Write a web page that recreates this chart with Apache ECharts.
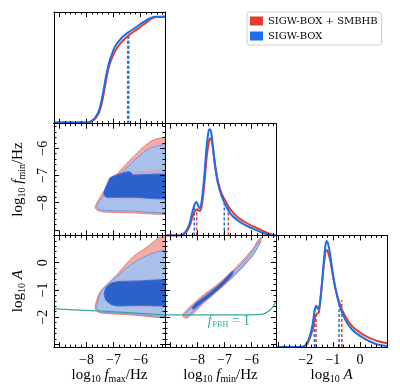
<!DOCTYPE html>
<html>
<head>
<meta charset="utf-8">
<script src="https://cdn.jsdelivr.net/npm/echarts@6/dist/echarts.min.js"></script>
<style>
html, body { margin: 0; padding: 0; background: #fff; }
#chart { width: 400px; height: 391px; }
</style>
</head>
<body>
<div id="chart"></div>
<script>
// axis ranges and ticks
const fRange = [-9.2, -5.1];
const aRange = [-3.1, 1.0];
const fMajor = [-9, -8, -7, -6];
const aMajor = [-3, -2, -1, 0, 1];
const fLabels = [-8, -7, -6];
const aLabels = [-2, -1, 0];

// 1D marginals, log10 fmax
const fmaxRed = [[-9.2,0.01],[-7.9,0.01],[-7.82,0.02],[-7.66,0.05],[-7.52,0.11],[-7.42,0.2],[-7.32,0.33],[-7.22,0.46],[-7.12,0.55],[-7.02,0.61],[-6.92,0.66],[-6.78,0.71],[-6.63,0.75],[-6.47,0.785],[-6.25,0.825],[-6.02,0.865],[-5.8,0.905],[-5.6,0.94],[-5.45,0.955],[-5.1,0.958]];
const fmaxBlue = [[-9.2,0.01],[-7.94,0.01],[-7.85,0.02],[-7.69,0.05],[-7.55,0.11],[-7.45,0.2],[-7.35,0.33],[-7.25,0.46],[-7.15,0.56],[-7.05,0.63],[-6.95,0.69],[-6.8,0.74],[-6.65,0.78],[-6.47,0.815],[-6.25,0.85],[-6.02,0.89],[-5.8,0.925],[-5.6,0.95],[-5.45,0.958],[-5.1,0.958]];
const fmaxRedCI = [[-6.48, 0.78]];
const fmaxBlueCI = [[-6.44, 0.815]];

// 1D marginals, log10 fmin
const fminRed = [[-9.2,0],[-8.6,0],[-8.42,0.03],[-8.28,0.09],[-8.18,0.17],[-8.08,0.22],[-8.02,0.235],[-7.96,0.22],[-7.9,0.22],[-7.82,0.3],[-7.74,0.48],[-7.66,0.7],[-7.58,0.84],[-7.53,0.87],[-7.48,0.85],[-7.42,0.76],[-7.33,0.6],[-7.22,0.46],[-7.1,0.37],[-6.95,0.3],[-6.78,0.23],[-6.55,0.17],[-6.25,0.12],[-5.95,0.08],[-5.65,0.05],[-5.4,0.02],[-5.2,0.005],[-5.1,0]];
const fminBlue = [[-9.2,0],[-8.65,0],[-8.45,0.03],[-8.3,0.1],[-8.2,0.2],[-8.1,0.28],[-8.04,0.3],[-7.98,0.27],[-7.92,0.24],[-7.85,0.3],[-7.76,0.5],[-7.68,0.75],[-7.6,0.92],[-7.55,0.95],[-7.5,0.93],[-7.44,0.82],[-7.35,0.62],[-7.25,0.47],[-7.12,0.36],[-6.98,0.28],[-6.8,0.2],[-6.6,0.15],[-6.3,0.1],[-6.0,0.065],[-5.7,0.035],[-5.45,0.01],[-5.3,0],[-5.1,0]];
const fminRedCI = [[-8.03, 0.235], [-6.86, 0.26]];
const fminBlueCI = [[-8.12, 0.27], [-7.01, 0.29]];

// 1D marginals, log10 A
const ampRed = [[-3.1,0],[-2.2,0],[-2.02,0.01],[-1.92,0.04],[-1.82,0.1],[-1.72,0.18],[-1.65,0.27],[-1.58,0.3],[-1.52,0.31],[-1.46,0.42],[-1.38,0.62],[-1.3,0.8],[-1.24,0.87],[-1.19,0.86],[-1.1,0.78],[-1.0,0.64],[-0.9,0.52],[-0.75,0.39],[-0.55,0.28],[-0.3,0.19],[0,0.13],[0.37,0.08],[0.7,0.05],[1.0,0.035]];
const ampBlue = [[-3.1,0],[-2.2,0],[-2.05,0.01],[-1.95,0.04],[-1.85,0.1],[-1.75,0.2],[-1.67,0.33],[-1.61,0.37],[-1.55,0.34],[-1.5,0.36],[-1.43,0.5],[-1.35,0.72],[-1.28,0.9],[-1.23,0.95],[-1.18,0.93],[-1.1,0.83],[-1.0,0.66],[-0.9,0.52],[-0.75,0.37],[-0.55,0.25],[-0.3,0.16],[0,0.1],[0.37,0.05],[0.7,0.02],[1.0,0.01]];
const ampRedCI = [[-1.62, 0.3], [-0.67, 0.42]];
const ampBlueCI = [[-1.68, 0.33], [-0.77, 0.37]];

// 2D contours: (log10 fmax, log10 fmin)
const maxMinRed95 = [[-7.68,-8.13],[-7.6,-7.98],[-7.5,-7.8],[-7.25,-7.42],[-6.9,-6.98],[-6.55,-6.6],[-6.3,-6.35],[-5.95,-6.0],[-5.65,-5.76],[-5.4,-5.65],[-4.9,-5.6],[-4.9,-8.36],[-6.3,-8.37],[-7.4,-8.34],[-7.6,-8.28],[-7.67,-8.22]];
const maxMinBlue95 = [[-7.62,-8.13],[-7.55,-7.98],[-7.45,-7.85],[-7.2,-7.5],[-6.87,-7.09],[-6.55,-6.75],[-6.28,-6.5],[-5.95,-6.2],[-5.65,-5.99],[-5.39,-5.92],[-4.9,-5.86],[-4.9,-8.31],[-6.28,-8.31],[-7.39,-8.28],[-7.55,-8.24],[-7.61,-8.2]];
const maxMinRed68 = [[-7.38,-7.65],[-7.34,-7.52],[-7.25,-7.3],[-7.13,-7.05],[-6.8,-6.9],[-6.4,-6.85],[-5.8,-6.82],[-4.9,-6.8],[-4.9,-7.85],[-7.2,-7.84],[-7.35,-7.78]];
const maxMinBlue68 = [[-7.36,-7.65],[-7.32,-7.5],[-7.22,-7.28],[-7.13,-7.09],[-6.8,-6.95],[-6.5,-6.87],[-6.39,-6.87],[-6.28,-6.98],[-4.9,-6.98],[-4.9,-7.83],[-6.28,-7.8],[-7.25,-7.8],[-7.34,-7.74]];

// 2D contours: (log10 fmax, log10 A)
const maxAmpRed95 = [[-7.68,-1.62],[-7.6,-1.3],[-7.5,-1.07],[-7.2,-0.76],[-6.88,-0.45],[-6.58,-0.1],[-6.28,0.22],[-5.95,0.45],[-5.65,0.66],[-5.3,0.95],[-5.1,1.2],[-4.9,1.2],[-4.9,-1.96],[-6.3,-1.92],[-7.4,-1.86],[-7.6,-1.8],[-7.67,-1.72]];
const maxAmpBlue95 = [[-7.62,-1.62],[-7.56,-1.35],[-7.5,-1.18],[-7.39,-0.95],[-7.15,-0.73],[-6.88,-0.51],[-6.58,-0.25],[-6.28,-0.02],[-5.95,0.17],[-5.65,0.31],[-5.35,0.4],[-4.9,0.43],[-4.9,-1.92],[-6.28,-1.88],[-7.39,-1.82],[-7.56,-1.78],[-7.61,-1.72]];
const maxAmpRed68 = [[-7.36,-1.14],[-7.28,-0.9],[-7.1,-0.72],[-6.8,-0.64],[-6.0,-0.62],[-4.9,-0.6],[-4.9,-1.58],[-7.1,-1.56],[-7.3,-1.4]];
const maxAmpBlue68 = [[-7.35,-1.14],[-7.28,-0.92],[-7.1,-0.76],[-6.87,-0.7],[-6.0,-0.67],[-4.9,-0.66],[-4.9,-1.55],[-6.0,-1.57],[-6.87,-1.59],[-7.1,-1.53],[-7.28,-1.38]];

// 2D contours: (log10 fmin, log10 A)
const minAmpRed95 = [[-8.52,-1.87],[-8.28,-1.62],[-7.79,-1.19],[-7.29,-0.82],[-6.8,-0.39],[-6.31,0.1],[-5.94,0.53],[-5.75,0.84],[-5.66,0.93],[-5.63,0.9],[-5.69,0.72],[-5.94,0.29],[-6.31,-0.15],[-6.8,-0.64],[-7.29,-1.07],[-7.79,-1.5],[-8.15,-1.87],[-8.4,-2.03],[-8.5,-2.02],[-8.54,-1.95]];
const minAmpBlue95 = [[-8.45,-1.88],[-8.22,-1.63],[-7.76,-1.24],[-7.27,-0.87],[-6.78,-0.45],[-6.3,0.02],[-5.95,0.45],[-5.78,0.72],[-5.71,0.8],[-5.68,0.76],[-5.74,0.62],[-5.96,0.27],[-6.33,-0.14],[-6.82,-0.6],[-7.3,-1.03],[-7.8,-1.45],[-8.17,-1.8],[-8.38,-1.95],[-8.47,-1.93]];
const minAmpRed68 = [[-8.25,-1.68],[-8.08,-1.46],[-7.6,-1.1],[-7.08,-0.66],[-6.7,-0.28],[-6.62,-0.26],[-6.68,-0.42],[-7.02,-0.84],[-7.55,-1.28],[-8.0,-1.64],[-8.18,-1.76]];
const minAmpBlue68 = [[-8.2,-1.66],[-8.05,-1.48],[-7.6,-1.15],[-7.1,-0.72],[-6.75,-0.35],[-6.68,-0.32],[-6.72,-0.45],[-7.05,-0.82],[-7.55,-1.25],[-8.0,-1.6],[-8.15,-1.72]];

// f_PBH = 1 bound
const pbhMax = [[-9.2,-1.7],[-7.2,-1.79],[-5.1,-1.92]];
const pbhMin = [[-9.2,-1.92],[-6.5,-1.92],[-5.76,-1.91],[-5.5,-1.86],[-5.32,-1.74],[-5.2,-1.6],[-5.1,-1.42]];
const pbhLabelAt = [-6.84, -2.14];

const RED = '#e23b2f';
const BLUE = '#1a6fec';
const TEAL = '#3aa69d';
const FONT = 'Liberation Serif';
const NAME_RED = 'SIGW-BOX + SMBHB';
const NAME_BLUE = 'SIGW-BOX';

const colLeft = [54, 165, 276];
const rowTop = [12, 123.7, 235.4];
const W = 111, H = 111.7;

const rich = {
  t: { fontFamily: FONT, fontSize: 15, color: '#000' },
  i: { fontFamily: FONT, fontSize: 15, fontStyle: 'italic', color: '#000' },
  s: { fontFamily: FONT, fontSize: 10, color: '#000', padding: [8, 0, 0, 0] }
};
const titleMax = '{t|log}{s|10}{i| f}{s|max}{t|/Hz}';
const titleMin = '{t|log}{s|10}{i| f}{s|min}{t|/Hz}';
const titleAmp = '{t|log}{s|10}{i| A}';

function minorOf(range, major) {
  const out = [];
  for (let k = Math.ceil(range[0] * 5 - 1e-9); k <= Math.floor(range[1] * 5 + 1e-9); k++) {
    const v = k / 5;
    if (!major.some(m => Math.abs(m - v) < 1e-6)) out.push(+v.toFixed(2));
  }
  return out;
}
const fmt = v => (v < 0 ? '\u2212' : '') + Math.abs(v);

const grids = [], xAxes = [], yAxes = [], series = [];

function axis(gi, pos, range, vals, len, extra) {
  return Object.assign({
    type: 'value', gridIndex: gi, position: pos, min: range[0], max: range[1], z: 10,
    axisLine: { show: true, onZero: false, lineStyle: { color: '#000', width: 1 } },
    axisTick: { show: !!vals, inside: true, length: len, customValues: vals || [], lineStyle: { color: '#000', width: 1 } },
    axisLabel: { show: false },
    splitLine: { show: false }
  }, extra || {});
}

function labelCfg(vals, rotate) {
  return { show: true, customValues: vals, formatter: fmt, fontFamily: FONT, fontSize: 14, color: '#000', margin: rotate ? 4 : 6, rotate: rotate || 0 };
}

// build one panel (main grid + overlay grid for the minor ticks); returns main axes
function panel(row, col, xr, xMaj, yr, yMaj, opt) {
  const box = { left: colLeft[col], top: rowTop[row], width: W, height: H };
  const gi = grids.length;
  grids.push(Object.assign({}, box), Object.assign({}, box));
  const xi = xAxes.length, yi = yAxes.length;
  const xMin = minorOf(xr, xMaj);
  xAxes.push(axis(gi, 'bottom', xr, xMaj, 5, opt.xLab ? {
    axisLabel: labelCfg(opt.xLab), name: opt.xTitle, nameLocation: 'middle', nameGap: 16,
    nameTextStyle: { rich: rich }
  } : null));
  xAxes.push(axis(gi, 'top', xr, xMaj, 5));
  xAxes.push(axis(gi + 1, 'bottom', xr, xMin, 2.5));
  xAxes.push(axis(gi + 1, 'top', xr, xMin, 2.5));
  if (opt.diag) {
    yAxes.push(axis(gi, 'left', yr, null, 0));
    yAxes.push(axis(gi, 'right', yr, null, 0));
    yAxes.push(axis(gi + 1, 'left', yr, null, 0, { show: false }));
  } else {
    const yMin = minorOf(yr, yMaj);
    yAxes.push(axis(gi, 'left', yr, yMaj, 5, opt.yLab ? {
      axisLabel: labelCfg(opt.yLab, 90), name: opt.yTitle, nameLocation: 'middle', nameGap: 27,
      nameTextStyle: { rich: rich }
    } : null));
    yAxes.push(axis(gi, 'right', yr, yMaj, 5));
    yAxes.push(axis(gi + 1, 'left', yr, yMin, 2.5));
    yAxes.push(axis(gi + 1, 'right', yr, yMin, 2.5));
  }
  return { xi, yi };
}

function curve(p, data, color, name, z) {
  series.push({
    type: 'line', name: name, xAxisIndex: p.xi, yAxisIndex: p.yi, data: data,
    showSymbol: false, symbol: 'none', smooth: 0.35, silent: true, z: z,
    lineStyle: { color: color, width: 2 }, itemStyle: { color: color }
  });
}
function ciLines(p, pts, color, z) {
  pts.forEach(pt => {
    series.push({
      type: 'line', xAxisIndex: p.xi, yAxisIndex: p.yi, data: [[pt[0], 0], pt],
      showSymbol: false, symbol: 'none', silent: true, z: z,
      lineStyle: { color: color, width: 1.5, type: [3, 2] }
    });
  });
}
function contour(p, pts, fill, stroke, z) {
  series.push({
    type: 'custom', xAxisIndex: p.xi, yAxisIndex: p.yi, data: [0], clip: true, silent: true, z: z,
    renderItem: (params, api) => ({
      type: 'polygon',
      shape: { points: pts.map(q => api.coord(q)), smooth: 0.15 },
      style: { fill: fill, stroke: stroke, lineWidth: stroke ? 1 : 0 }
    })
  });
}
function pbh(p, data) {
  series.push({
    type: 'line', xAxisIndex: p.xi, yAxisIndex: p.yi, data: data, showSymbol: false, symbol: 'none',
    smooth: 0.3, silent: true, z: 6, lineStyle: { color: TEAL, width: 1.2 }
  });
}

const pMax = panel(0, 0, fRange, fMajor, [0, 1], null, { diag: true });
const pMaxMin = panel(1, 0, fRange, fMajor, fRange, fMajor, { yLab: fLabels, yTitle: titleMin });
const pMin = panel(1, 1, fRange, fMajor, [0, 1], null, { diag: true });
const pMaxAmp = panel(2, 0, fRange, fMajor, aRange, aMajor, { xLab: fLabels, xTitle: titleMax, yLab: aLabels, yTitle: titleAmp });
const pMinAmp = panel(2, 1, fRange, fMajor, aRange, aMajor, { xLab: fLabels, xTitle: titleMin });
const pAmp = panel(2, 2, aRange, aMajor, [0, 1], null, { diag: true, xLab: aLabels, xTitle: titleAmp });

// contours
[[pMaxMin, maxMinRed95, maxMinBlue95, maxMinRed68, maxMinBlue68],
 [pMaxAmp, maxAmpRed95, maxAmpBlue95, maxAmpRed68, maxAmpBlue68],
 [pMinAmp, minAmpRed95, minAmpBlue95, minAmpRed68, minAmpBlue68]].forEach(c => {
  contour(c[0], c[1], '#f4aba6', '#ec7a70', 1);
  contour(c[0], c[2], '#a9c0ea', '#6b97e8', 2);
  contour(c[0], c[3], 'rgba(214,150,175,0.45)', null, 3);
  contour(c[0], c[4], '#2c61cb', '#3a6fd8', 4);
});
pbh(pMaxAmp, pbhMax);
pbh(pMinAmp, pbhMin);
series.push({
  type: 'custom', xAxisIndex: pMinAmp.xi, yAxisIndex: pMinAmp.yi, data: [0], silent: true, z: 7,
  renderItem: (params, api) => {
    const c = api.coord(pbhLabelAt);
    return {
      type: 'text', x: c[0], y: c[1],
      style: {
        text: '{i|f}{s|PBH}{t| = 1}', align: 'center', verticalAlign: 'middle',
        rich: {
          i: { fontFamily: FONT, fontSize: 14, fontStyle: 'italic', fill: TEAL },
          s: { fontFamily: FONT, fontSize: 8, fill: TEAL, padding: [7, 0, 0, 1] },
          t: { fontFamily: FONT, fontSize: 14, fill: TEAL }
        }
      }
    };
  }
});

// marginals
[[pMax, fmaxRed, fmaxBlue, fmaxRedCI, fmaxBlueCI],
 [pMin, fminRed, fminBlue, fminRedCI, fminBlueCI],
 [pAmp, ampRed, ampBlue, ampRedCI, ampBlueCI]].forEach(m => {
  ciLines(m[0], m[3], RED, 3);
  ciLines(m[0], m[4], BLUE, 3);
  curve(m[0], m[1], RED, NAME_RED, 4);
  curve(m[0], m[2], BLUE, NAME_BLUE, 5);
});

const chart = echarts.init(document.getElementById('chart'), null, { renderer: 'canvas' });
chart.setOption({
  animation: false,
  backgroundColor: '#fff',
  grid: grids,
  xAxis: xAxes,
  yAxis: yAxes,
  legend: {
    left: 247, top: 12, orient: 'vertical', selectedMode: false,
    itemWidth: 13, itemHeight: 9, itemGap: 5, padding: [4, 4, 4, 3],
    borderColor: '#cccccc', borderWidth: 1, borderRadius: 3,
    textStyle: { fontFamily: 'DejaVu Serif', fontSize: 10, color: '#000' },
    data: [
      { name: NAME_RED, icon: 'rect', itemStyle: { color: RED } },
      { name: NAME_BLUE, icon: 'rect', itemStyle: { color: BLUE } }
    ]
  },
  series: series
});
</script>
</body>
</html>
